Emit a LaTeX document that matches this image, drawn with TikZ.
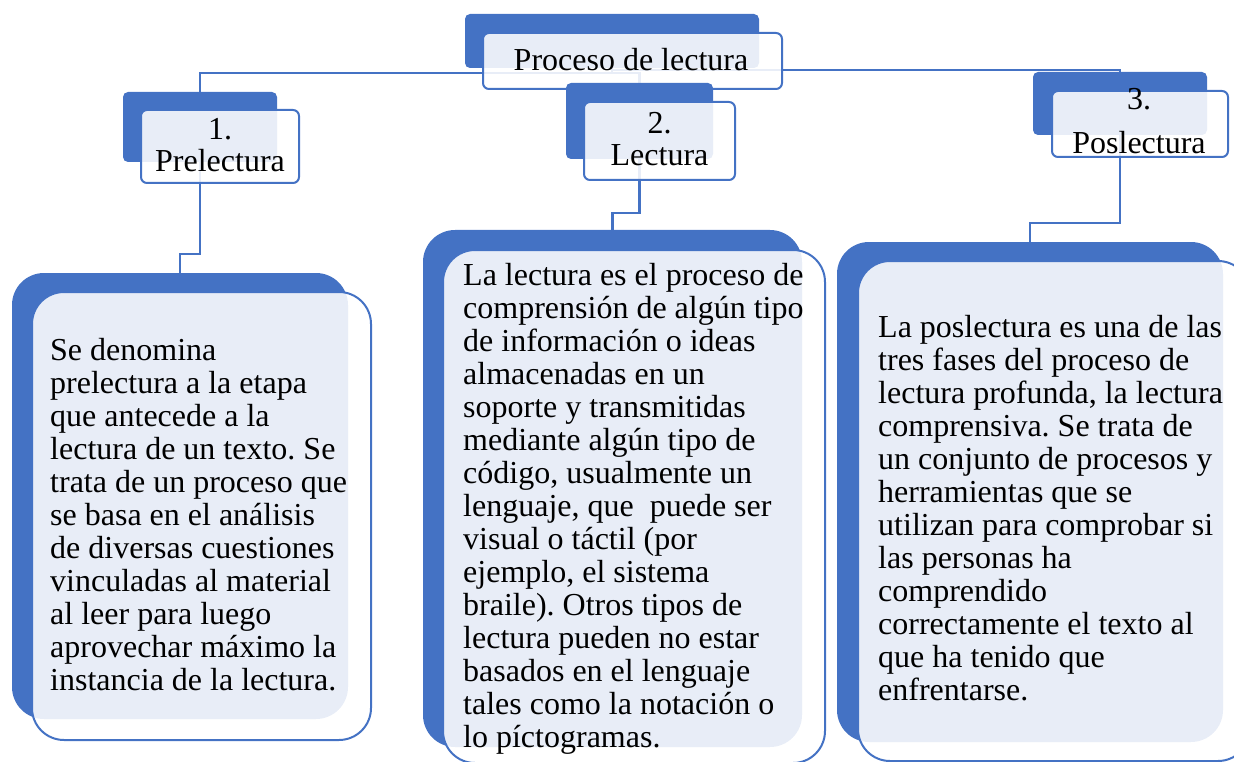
\documentclass[tikz,border=0pt]{standalone}
\usepackage{fontspec}
\setmainfont{Liberation Serif}
\usetikzlibrary{backgrounds}
\definecolor{accent}{HTML}{4472C4}
\tikzset{
  backbox/.style={rectangle, fill=accent, inner sep=0pt, outer sep=0pt, anchor=north west},
  frontbox/.style={rectangle, draw=accent, line width=2pt, fill=white, fill opacity=0.88, draw opacity=1, inner sep=0pt, outer sep=0pt, anchor=north west},
  conn/.style={draw=accent, line width=2.5pt},
  head/.style={font=\fontsize{32}{32}\selectfont, align=center, inner sep=0pt, anchor=north},
  body/.style={font=\fontsize{32}{33}\selectfont, align=left, inner sep=0pt, anchor=north west},
}
\begin{document}
\frenchspacing
\begin{tikzpicture}[x=1pt, y=-1pt]
\useasboundingbox (0,0) rectangle (1234,762);

% top item
\node[backbox, minimum width=294pt, minimum height=54pt, rounded corners=5pt] (b0) at (465,14) {};
\node[frontbox, minimum width=299pt, minimum height=56pt, rounded corners=6pt] (f0) at (483,33) {};
\node[head] (t0) at (631,48) {Proceso de lectura};

% header 1
\node[backbox, minimum width=154pt, minimum height=70pt, rounded corners=5pt] (b1) at (123,92) {};
\node[frontbox, minimum width=158pt, minimum height=73pt, rounded corners=6pt] (f1) at (141,110) {};
\node[head] (t1) at (220,118) {1.\\Prelectura};

% header 2
\node[backbox, minimum width=147pt, minimum height=76pt, rounded corners=5pt] (b2) at (566,83) {};
\node[frontbox, minimum width=151pt, minimum height=78pt, rounded corners=6pt] (f2) at (584,102) {};
\node[head] (t2) at (659.5,112) {2.\\Lectura};

% header 3
\node[backbox, minimum width=174pt, minimum height=63pt, rounded corners=5pt] (b3) at (1033,72) {};
\node[frontbox, minimum width=176pt, minimum height=66pt, rounded corners=6pt] (f3) at (1052,91) {};
\node[head] (t3) at (1139,88) {3.\\[12pt]Poslectura};

% body 1
\node[backbox, minimum width=336pt, minimum height=446pt, rounded corners=32pt] (B1) at (12,273) {};
\node[frontbox, minimum width=339pt, minimum height=448pt, rounded corners=32pt] (F1) at (32,292) {};
\node[body] (T1) at (50,338) {Se denomina\\prelectura a la etapa\\que antecede a la\\lectura de un texto. Se\\trata de un proceso que\\se basa en el análisis\\de diversas cuestiones\\vinculadas al material\\al leer para luego\\aprovechar máximo la\\instancia de la lectura.};

% body 2
\node[backbox, minimum width=379pt, minimum height=517pt, rounded corners=32pt] (B2) at (423,230) {};
\node[frontbox, minimum width=382pt, minimum height=513pt, rounded corners=32pt] (F2) at (443,250) {};
\node[body] (T2) at (463,263) {La lectura es el proceso de\\comprensión de algún tipo\\de información o ideas\\almacenadas en un\\soporte y transmitidas\\mediante algún tipo de\\código, usualmente un\\lenguaje, que\ \ puede ser\\visual o táctil (por\\ejemplo, el sistema\\braile). Otros tipos de\\lectura pueden no estar\\basados en el lenguaje\\tales como la notación o\\lo píctogramas.};

% body 3
\node[backbox, minimum width=386pt, minimum height=500pt, rounded corners=32pt] (B3) at (837,242) {};
\node[frontbox, minimum width=392pt, minimum height=500pt, rounded corners=32pt] (F3) at (858,261) {};
\node[body] (T3) at (878,315) {La poslectura es una de las\\tres fases del proceso de\\lectura profunda, la lectura\\comprensiva. Se trata de\\un conjunto de procesos y\\herramientas que se\\utilizan para comprobar si\\las personas ha\\comprendido\\correctamente el texto al\\que ha tenido que\\enfrentarse.};

% connectors
\begin{pgfonlayer}{background}
\draw[conn] (b0.south) -- (b0.south |- 0,73) -| (b1.north);
\draw[conn] (b0.south |- 0,73) -| (b2.north);
\draw[conn] (b0.south) -- (b0.south |- 0,70) -| (b3.north);
\draw[conn] (b1.south) -- (b1.south |- 0,254) -| (B1.north);
\draw[conn] (b2.south) -- (b2.south |- 0,213) -| (B2.north);
\draw[conn] (b3.south) -- (b3.south |- 0,223) -| (B3.north);
\end{pgfonlayer}
\end{tikzpicture}
\end{document}
